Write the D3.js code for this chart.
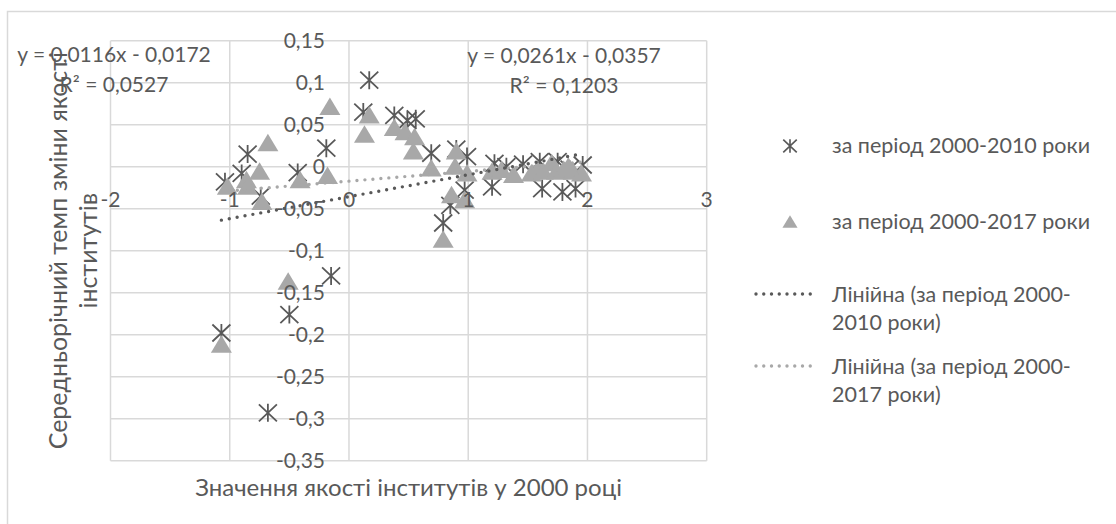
<!DOCTYPE html>
<html>
<head>
<meta charset="utf-8">
<script src="https://cdn.jsdelivr.net/npm/d3@7"></script>
<style>
  html, body { margin: 0; padding: 0; background: #ffffff; }
  svg { display: block; }
  text { font-family: Lato, "Open Sans", sans-serif; fill: #595959; }
</style>
</head>
<body>
<svg id="chart" width="1116" height="524"></svg>
<script>
// Series: 2000–2010 (asterisks)
const s1x = [-1.07, -1.04, -0.85, -0.90, -0.74, -0.68, -0.50, -0.43, -0.19, -0.15,
             0.12, 0.17, 0.38, 0.49, 0.56, 0.69, 0.79, 0.85, 0.90, 0.97, 0.99,
             1.22, 1.20, 1.32, 1.46, 1.60, 1.62, 1.75, 1.79, 1.90, 1.96, 1.85];
const s1y = [-0.198, -0.018, 0.015, -0.008, -0.035, -0.293, -0.176, -0.007, 0.022, -0.130,
             0.065, 0.103, 0.061, 0.055, 0.057, 0.016, -0.067, -0.046, 0.021, -0.028, 0.012,
             0.004, -0.024, 0.000, 0.003, 0.006, -0.026, 0.006, -0.030, -0.026, 0.002, -0.003];

// Series: 2000–2017 (triangles)
const s2x = [-1.07, -1.02, -0.86, -0.85, -0.75, -0.68, -0.73, -0.51, -0.41, -0.18, -0.16,
             0.13, 0.17, 0.38, 0.47, 0.55, 0.54, 0.69, 0.79, 0.86, 0.89, 0.90, 0.97, 0.99,
             1.20, 1.28, 1.38, 1.53, 1.58, 1.63, 1.70, 1.74, 1.80, 1.88, 1.95, 1.84];
const s2y = [-0.212, -0.024, -0.016, -0.024, -0.006, 0.028, -0.042, -0.137, -0.016, -0.011, 0.071,
             0.038, 0.061, 0.046, 0.041, 0.035, 0.018, -0.002, -0.087, -0.034, 0.000, 0.018, -0.040, -0.008,
             -0.006, -0.004, -0.010, -0.008, -0.004, -0.006, 0.004, -0.006, -0.004, -0.006, -0.008, 0.000];

// Linear trend coefficients (slope, intercept)
const trend1 = [0.0261, -0.0357];
const trend2 = [0.0116, -0.0172];

const xTicks = [-2, -1, 0, 1, 2, 3];
const yTicks = [0.15, 0.1, 0.05, 0, -0.05, -0.1, -0.15, -0.2, -0.25, -0.3, -0.35];

const seriesNames = ["за період 2000-2010 роки", "за період 2000-2017 роки"];
const trendNames = [["Лінійна (за період 2000-", "2010 роки)"], ["Лінійна (за період 2000-", "2017 роки)"]];
const eqLabels = [["y = 0,0261x - 0,0357", "R² = 0,1203"], ["y = 0,0116x - 0,0172", "R² = 0,0527"]];
const xTitle = "Значення якості інститутів у 2000 році";
const yTitle = ["Середньорічний темп зміни якості", "інститутів"];

const svg = d3.select("#chart");
const dark = "#595959", light = "#a8a8a8", grid = "#d9d9d9";

const x = d3.scaleLinear().domain([-2, 3]).range([110.5, 706.7]);
const y = d3.scaleLinear().domain([-0.35, 0.15]).range([460.7, 40.7]);
const fmt = v => String(+v.toFixed(2)).replace(".", ",");

// Chart frame
svg.append("rect").attr("x", 7.5).attr("y", 11.5).attr("width", 1130).attr("height", 530)
  .attr("fill", "none").attr("stroke", grid).attr("stroke-width", 1.5);

// Gridlines
svg.append("g").selectAll("line").data(yTicks).join("line")
  .attr("x1", x(-2)).attr("x2", x(3)).attr("y1", d => y(d)).attr("y2", d => y(d))
  .attr("stroke", grid).attr("stroke-width", 1.5);
svg.append("g").selectAll("line").data(xTicks).join("line")
  .attr("x1", d => x(d)).attr("x2", d => x(d)).attr("y1", y(0.15)).attr("y2", y(-0.35))
  .attr("stroke", grid).attr("stroke-width", 1.5);

// Markers
const star = "M-9,-8.5L9,8.5M-9,8.5L9,-8.5M0,-9L0,9";
const tri = "M0,-9.5L10.5,8L-10.5,8Z";

const d1 = s1x.map((v, i) => [v, s1y[i]]);
const d2 = s2x.map((v, i) => [v, s2y[i]]);

svg.append("g").selectAll("path").data(d1).join("path")
  .attr("d", star).attr("transform", d => `translate(${x(d[0])},${y(d[1])})`)
  .attr("fill", "none").attr("stroke", dark).attr("stroke-width", 1.8);

svg.append("g").selectAll("path").data(d2).join("path")
  .attr("d", tri).attr("transform", d => `translate(${x(d[0])},${y(d[1])})`)
  .attr("fill", light);

// Trend lines over each series' x-range
function trendLine(data, coef, color) {
  const ext = d3.extent(data, d => d[0]);
  svg.append("line")
    .attr("x1", x(ext[0])).attr("y1", y(coef[0] * ext[0] + coef[1]))
    .attr("x2", x(ext[1])).attr("y2", y(coef[0] * ext[1] + coef[1]))
    .attr("stroke", color).attr("stroke-width", 3.4)
    .attr("stroke-linecap", "round").attr("stroke-dasharray", "0 8");
}
trendLine(d2, trend2, light);
trendLine(d1, trend1, dark);

// Axis tick labels (axes cross at zero)
const fs = 21;
svg.append("g").selectAll("text").data(yTicks).join("text")
  .attr("x", 325).attr("y", d => y(d)).attr("dy", "0.35em")
  .attr("text-anchor", "end").attr("font-size", fs).text(fmt);
svg.append("g").selectAll("text").data(xTicks).join("text")
  .attr("x", d => x(d)).attr("y", y(0) + 33).attr("dy", "0.35em")
  .attr("text-anchor", "middle").attr("font-size", fs).text(fmt);

// Axis titles
svg.append("text").attr("x", (x(-2) + x(3)) / 2).attr("y", 496)
  .attr("text-anchor", "middle").attr("font-size", 24).text(xTitle);
const yt = svg.append("g").attr("transform", `translate(0,${(y(0.15) + y(-0.35)) / 2}) rotate(-90)`);
yt.selectAll("text").data(yTitle).join("text")
  .attr("x", 0).attr("y", (d, i) => 67 + i * 30)
  .attr("text-anchor", "middle").attr("font-size", 25).text(d => d);

// Trend equations
const eqPos = [[564, 63], [114, 62]];
eqLabels.forEach((lines, k) => {
  lines.forEach((t, i) => {
    svg.append("text").attr("x", eqPos[k][0]).attr("y", eqPos[k][1] + i * 30)
      .attr("text-anchor", "middle").attr("font-size", fs).text(t);
  });
});

// Legend
const lg = svg.append("g");
lg.append("path").attr("d", star).attr("transform", "translate(790,146) scale(0.75)")
  .attr("fill", "none").attr("stroke", dark).attr("stroke-width", 2.2);
lg.append("text").attr("x", 832).attr("y", 153).attr("font-size", 21.5).text(seriesNames[0]);
lg.append("path").attr("d", tri).attr("transform", "translate(790,222) scale(0.72)").attr("fill", light);
lg.append("text").attr("x", 832).attr("y", 229).attr("font-size", 21.5).text(seriesNames[1]);
[[294, dark], [366, light]].forEach(([ly, c], k) => {
  lg.append("line").attr("x1", 756).attr("x2", 818).attr("y1", ly).attr("y2", ly)
    .attr("stroke", c).attr("stroke-width", 3.4).attr("stroke-linecap", "round")
    .attr("stroke-dasharray", "0 7.75");
  trendNames[k].forEach((t, i) => {
    lg.append("text").attr("x", 832).attr("y", ly + 8 + i * 28).attr("font-size", 21.5).text(t);
  });
});
</script>
</body>
</html>
